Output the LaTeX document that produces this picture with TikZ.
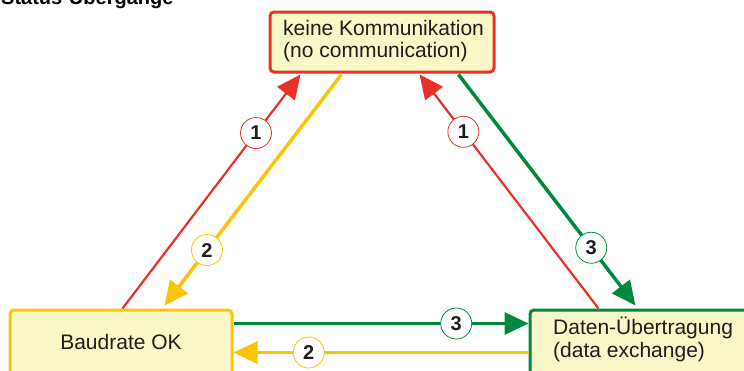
\documentclass[tikz,border=0pt]{standalone}
\usepackage{fontspec}
\setmainfont{Liberation Sans}
\usetikzlibrary{arrows.meta,calc}
\definecolor{cred}{RGB}{232,50,40}
\definecolor{cyel}{RGB}{250,196,10}
\definecolor{cgrn}{RGB}{0,136,62}
\definecolor{cfill}{RGB}{250,247,200}
\definecolor{ctext}{RGB}{30,30,30}
\begin{document}
\begin{tikzpicture}[x=1pt,y=-1pt,
 statebox/.style={draw, fill=cfill, line width=3pt, rounded corners=4pt, inner sep=0pt},
 lbl/.style={font=\fontsize{21}{23}\selectfont, anchor=base west, inner sep=0pt, text=ctext},
 numc/.style={circle, fill=white, draw=#1, line width=0.8pt, minimum size=31pt, inner sep=0pt, font=\fontsize{20}{20}\selectfont\bfseries, text=ctext},
 redarrow/.style={draw=cred, line width=2.2pt, -{Triangle[length=24pt,width=22pt]}},
 fatarrow/.style={draw=#1, line width=3.5pt, -{Triangle[length=24pt,width=22pt]}},
]
\useasboundingbox (0,0) rectangle (744,370);
\clip (0,0) rectangle (744,370);

% title (cut off at the top)
\node[font=\bfseries\fontsize{20}{20}\selectfont, anchor=base west, inner sep=0pt] (title) at (1,4.5) {Status-Übergänge};

% state boxes
\node[statebox, draw=cred, minimum width=224pt, minimum height=60pt] (kk) at (382,42) {};
\node[statebox, draw=cyel, minimum width=222pt, minimum height=75pt] (baud) at (121,347.5) {};
\node[statebox, draw=cgrn, minimum width=230pt, minimum height=75pt] (daten) at (645,347.5) {};

% texts
\node[lbl] (kk1) at (283,35) {keine Kommunikation};
\node[lbl] (kk2) at (283,57.5) {(no communication)};
\node[lbl, anchor=base] (bd) at (121,349) {Baudrate OK};
\node[lbl] (dt1) at (553,334) {Daten-Übertragung};
\node[lbl] (dt2) at (553,357) {(data exchange)};

% connector end points on the boxes
\coordinate (r1aS) at ([xshift=114pt]baud.north west);
\coordinate (r1aE) at ([xshift=32pt,yshift=-1pt]kk.south west);
\coordinate (y2aS) at ([xshift=73pt,yshift=-1pt]kk.south west);
\coordinate (y2aE) at ([xshift=156pt,yshift=3pt]baud.north west);
\coordinate (r1bS) at ([xshift=70pt]daten.north west);
\coordinate (r1bE) at ([xshift=151pt,yshift=-1pt]kk.south west);
\coordinate (g3aS) at ([xshift=190pt,yshift=-1pt]kk.south west);
\coordinate (g3aE) at ([xshift=107pt,yshift=3pt]daten.north west);
\coordinate (g3bS) at ([yshift=-15pt]baud.north east);
\coordinate (g3bE) at ([yshift=-15pt]daten.north west);
\coordinate (y2bS) at ([yshift=-44pt]daten.north west);
\coordinate (y2bE) at ([yshift=-44pt]baud.north east);

% connectors
\draw[redarrow] (r1aS) -- (r1aE);
\draw[fatarrow=cyel] (y2aS) -- (y2aE);
\draw[redarrow] (r1bS) -- (r1bE);
\draw[fatarrow=cgrn] (g3aS) -- (g3aE);
\draw[fatarrow=cgrn] (g3bS) -- (g3bE);
\draw[fatarrow=cyel] (y2bS) -- (y2bE);

% numbered circles
\node[numc=cred] (c1a) at ($(r1aS)!0.75!(r1aE)$) {1};
\node[numc=cyel] (c2a) at ($(y2aS)!0.76!(y2aE)$) {2};
\node[numc=cred] (c1b) at ($(r1bS)!0.755!(r1bE)$) {1};
\node[numc=cgrn] (c3a) at ($(g3aS)!0.75!(g3aE)$) {3};
\node[numc=cgrn] (c3b) at ($(g3bS)!0.755!(g3bE)$) {3};
\node[numc=cyel] (c2b) at ($(y2bS)!0.745!(y2bE)$) {2};
\end{tikzpicture}
\end{document}
